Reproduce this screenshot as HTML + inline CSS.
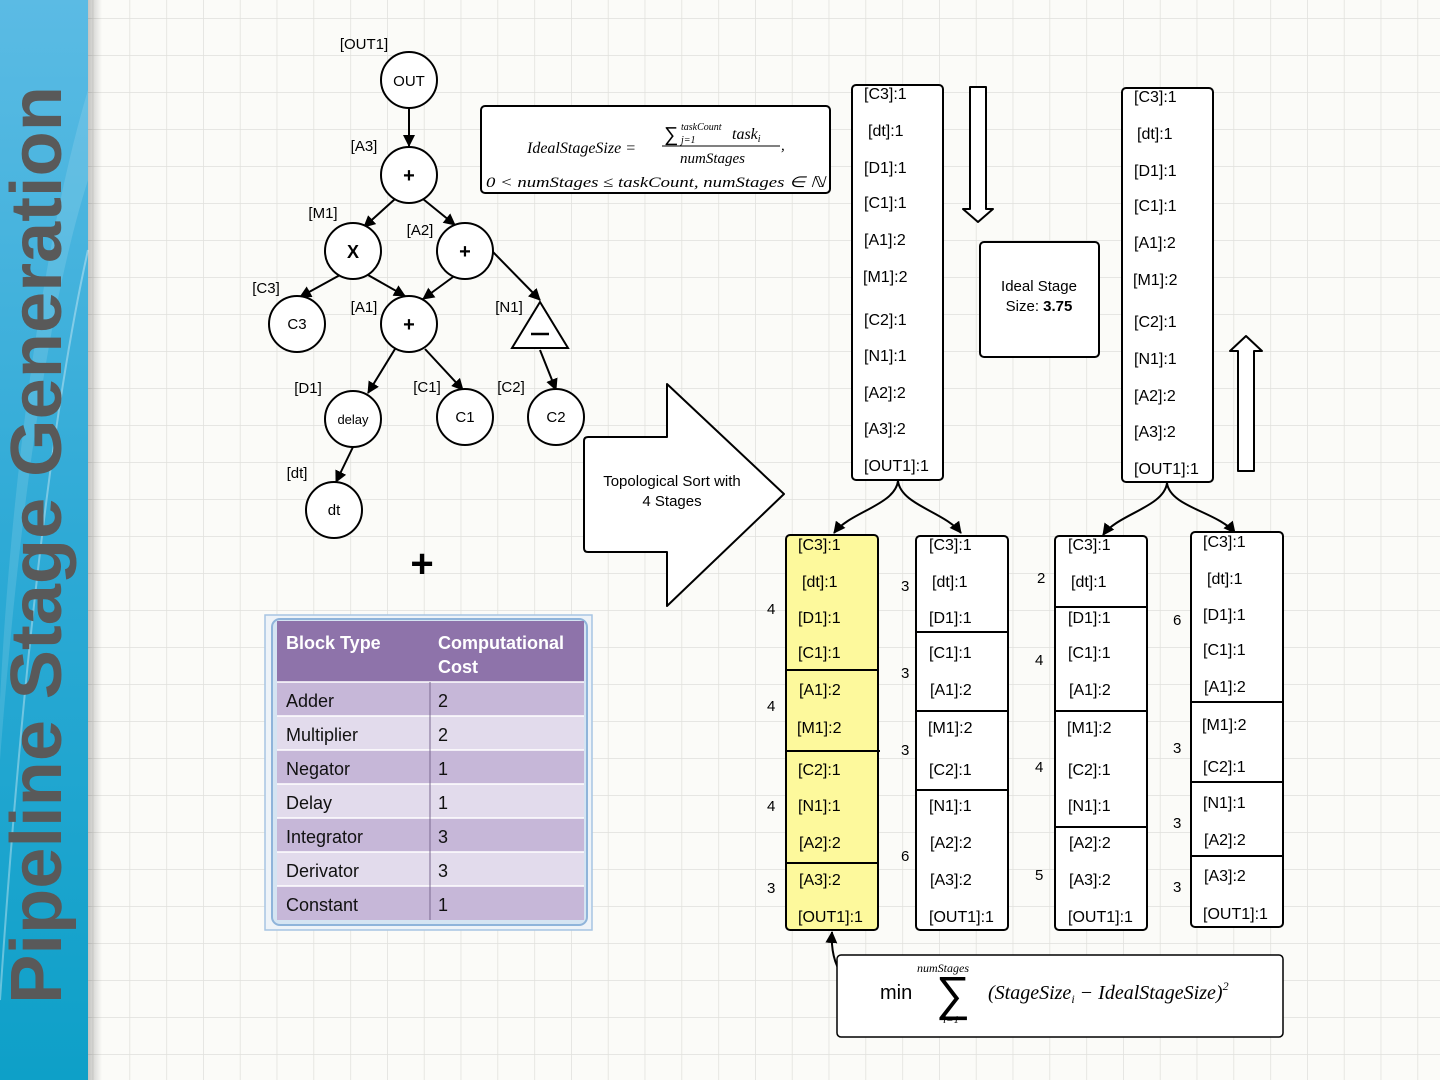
<!DOCTYPE html>
<html><head><meta charset="utf-8"><style>
html,body{margin:0;padding:0;width:1440px;height:1080px;overflow:hidden;background:#fbfbf8}
svg{display:block}
text{font-family:"Liberation Sans",sans-serif}
.s{font-family:"Liberation Serif",serif;font-style:italic}
</style></head><body>
<svg width="1440" height="1080" viewBox="0 0 1440 1080" xmlns="http://www.w3.org/2000/svg">
<defs>
<pattern id="g" x="19" y="18" width="36.8" height="37" patternUnits="userSpaceOnUse">
<path d="M0 0H36.8M0 0V37" stroke="#e0e0dc" stroke-width="1.5" fill="none"/>
</pattern>
<linearGradient id="sb" x1="0" y1="0" x2="0" y2="1">
<stop offset="0" stop-color="#5bbbe4"/><stop offset="0.5" stop-color="#2eaad6"/><stop offset="1" stop-color="#0ea0c8"/>
</linearGradient>
<linearGradient id="sh" x1="0" x2="1"><stop offset="0" stop-color="#000" stop-opacity="0.22"/><stop offset="1" stop-color="#000" stop-opacity="0"/></linearGradient>
<marker id="a" markerWidth="12" markerHeight="12" refX="11" refY="6" orient="auto" markerUnits="userSpaceOnUse"><path d="M0 0L12 6L0 12z" fill="#000"/></marker>
</defs>
<rect width="1440" height="1080" fill="#fbfbf8"/>
<rect x="88" width="1352" height="1080" fill="url(#g)"/>
<rect x="88" width="14" height="1080" fill="url(#sh)"/>
<rect width="88" height="1080" fill="url(#sb)"/>
<path d="M88 90 C40 250 10 500 0 700 L0 760 C20 500 50 300 88 180z" fill="#fff" opacity="0.12"/>
<path d="M88 250 C50 420 20 700 0 1000" stroke="#fff" stroke-width="2" opacity="0.35" fill="none"/>
<text transform="translate(61,1004) rotate(-90)" font-size="72" font-weight="bold" fill="#595959" textLength="918" lengthAdjust="spacingAndGlyphs">Pipeline Stage Generation</text>

<!-- tree -->
<g stroke="#000" stroke-width="2" fill="none" marker-end="url(#a)">
<line x1="409" y1="108" x2="409" y2="146"/>
<line x1="395" y1="199" x2="364" y2="227"/>
<line x1="423" y1="199" x2="455" y2="225"/>
<line x1="340" y1="275" x2="300" y2="297"/>
<line x1="368" y1="275" x2="405" y2="296"/>
<line x1="453" y1="277" x2="423" y2="299"/>
<line x1="493" y1="252" x2="540" y2="300"/>
<line x1="395" y1="349" x2="368" y2="393"/>
<line x1="425" y1="349" x2="463" y2="390"/>
<line x1="540" y1="350" x2="556" y2="390"/>
<line x1="353" y1="447" x2="336" y2="482"/>
</g>
<g stroke="#000" stroke-width="2" fill="#fff">
<circle cx="409" cy="80" r="28"/><circle cx="409" cy="175" r="28"/>
<circle cx="353" cy="251" r="28"/><circle cx="465" cy="251" r="28"/>
<circle cx="297" cy="324" r="28"/><circle cx="409" cy="324" r="28"/>
<circle cx="353" cy="419" r="28"/><circle cx="465" cy="417" r="28"/>
<circle cx="556" cy="417" r="28"/><circle cx="334" cy="510" r="28"/>
<path d="M540 302L568 348L512 348z"/>
</g>
<g font-size="15" text-anchor="middle" fill="#000">
<text x="409" y="86">OUT</text><text x="409" y="182" font-weight="bold" font-size="20">+</text>
<text x="353" y="258" font-weight="bold" font-size="18">X</text><text x="465" y="258" font-weight="bold" font-size="20">+</text>
<text x="297" y="329">C3</text><text x="409" y="331" font-weight="bold" font-size="20">+</text>
<text x="353" y="424" font-size="13">delay</text><text x="465" y="422">C1</text><text x="556" y="422">C2</text>
<text x="334" y="515">dt</text>
<line x1="531" y1="334" x2="549" y2="334" stroke="#000" stroke-width="2.5"/>
<text x="364" y="49">[OUT1]</text><text x="364" y="151">[A3]</text><text x="323" y="218">[M1]</text>
<text x="420" y="235">[A2]</text><text x="266" y="293">[C3]</text><text x="364" y="312">[A1]</text>
<text x="509" y="312">[N1]</text><text x="308" y="393">[D1]</text><text x="427" y="392">[C1]</text>
<text x="511" y="392">[C2]</text><text x="297" y="478">[dt]</text>
</g>
<text x="422" y="577" font-size="40" font-weight="bold" text-anchor="middle">+</text>

<!-- formula box -->
<rect x="481" y="106" width="349" height="87" rx="4" fill="#fff" stroke="#000" stroke-width="2"/>
<text class="s" x="527" y="153" font-size="16">IdealStageSize =</text>
<text x="664" y="141" font-size="20" font-family="Liberation Serif,serif">∑</text>
<text class="s" x="681" y="130" font-size="10">taskCount</text>
<text class="s" x="681" y="143" font-size="10">j=1</text>
<text class="s" x="732" y="139" font-size="16">task<tspan font-size="10" dy="3">i</tspan></text>
<line x1="662" y1="146" x2="780" y2="146" stroke="#000" stroke-width="1"/>
<text class="s" x="680" y="163" font-size="15">numStages</text>
<text class="s" x="781" y="150" font-size="15">,</text>
<text class="s" x="486" y="187" font-size="15" textLength="339" lengthAdjust="spacingAndGlyphs">0 &lt; numStages ≤ taskCount, numStages ∈ ℕ</text>

<!-- top columns -->
<rect x="852" y="85" width="91" height="395" rx="4" fill="#fff" stroke="#000" stroke-width="2"/>
<rect x="1122" y="88" width="91" height="394" rx="4" fill="#fff" stroke="#000" stroke-width="2"/>
<g font-size="16" fill="#000">
<text x="864" y="99">[C3]:1</text><text x="868" y="136">[dt]:1</text><text x="864" y="173">[D1]:1</text><text x="864" y="208">[C1]:1</text><text x="864" y="245">[A1]:2</text><text x="863" y="282">[M1]:2</text><text x="864" y="325">[C2]:1</text><text x="864" y="361">[N1]:1</text><text x="864" y="398">[A2]:2</text><text x="864" y="434">[A3]:2</text><text x="864" y="471">[OUT1]:1</text>
<text x="1134" y="102">[C3]:1</text><text x="1137" y="139">[dt]:1</text><text x="1134" y="176">[D1]:1</text><text x="1134" y="211">[C1]:1</text><text x="1134" y="248">[A1]:2</text><text x="1133" y="285">[M1]:2</text><text x="1134" y="327">[C2]:1</text><text x="1134" y="364">[N1]:1</text><text x="1134" y="401">[A2]:2</text><text x="1134" y="437">[A3]:2</text><text x="1134" y="474">[OUT1]:1</text>
</g>
<path d="M970 87H986V209H993L978 222L963 209H970z" fill="#fff" stroke="#000" stroke-width="2" stroke-linejoin="round"/>
<path d="M1238 471H1254V351H1262L1246 336L1230 351H1238z" fill="#fff" stroke="#000" stroke-width="2" stroke-linejoin="round"/>
<rect x="980" y="242" width="119" height="115" rx="4" fill="#fff" stroke="#000" stroke-width="2"/>
<text x="1039" y="291" font-size="15" text-anchor="middle">Ideal Stage</text>
<text x="1039" y="311" font-size="15" text-anchor="middle">Size: <tspan font-weight="bold">3.75</tspan></text>

<g stroke="#000" stroke-width="2" fill="none" marker-end="url(#a)">
<path d="M898 481 C895 505 850 512 834 533"/>
<path d="M898 481 C901 505 945 512 961 533"/>
<path d="M1167 483 C1164 507 1118 514 1103 535"/>
<path d="M1167 483 C1170 507 1218 512 1235 533"/>
<path d="M880 993 C845 993 830 965 832 932"/>
</g>

<!-- big arrow -->
<path d="M588 437H667V384L784 494L667 606V552H588Q584 552 584 548V441Q584 437 588 437z" fill="#fff" stroke="#000" stroke-width="2" stroke-linejoin="round"/>
<text x="672" y="486" font-size="15" text-anchor="middle">Topological Sort with</text>
<text x="672" y="506" font-size="15" text-anchor="middle">4 Stages</text>

<!-- bottom columns -->
<rect x="786" y="535" width="92" height="395" rx="4" fill="#fdf99c" stroke="#000" stroke-width="2"/>
<rect x="916" y="536" width="92" height="394" rx="4" fill="#fff" stroke="#000" stroke-width="2"/>
<rect x="1055" y="536" width="92" height="394" rx="4" fill="#fff" stroke="#000" stroke-width="2"/>
<rect x="1191" y="532" width="92" height="395" rx="4" fill="#fff" stroke="#000" stroke-width="2"/>
<g stroke="#000" stroke-width="2">
<line x1="786" y1="670" x2="878" y2="670"/><line x1="787" y1="751" x2="880" y2="751"/><line x1="786" y1="863" x2="878" y2="863"/>
<line x1="916" y1="632" x2="1008" y2="632"/><line x1="916" y1="711" x2="1008" y2="711"/><line x1="916" y1="790" x2="1008" y2="790"/>
<line x1="1055" y1="607" x2="1147" y2="607"/><line x1="1054" y1="711" x2="1147" y2="711"/><line x1="1054" y1="827" x2="1147" y2="827"/>
<line x1="1191" y1="702" x2="1283" y2="702"/><line x1="1191" y1="782" x2="1283" y2="782"/><line x1="1191" y1="856" x2="1283" y2="856"/>
</g>
<g font-size="16" fill="#000">
<text x="798" y="550">[C3]:1</text><text x="802" y="587">[dt]:1</text><text x="798" y="623">[D1]:1</text><text x="798" y="658">[C1]:1</text><text x="799" y="695">[A1]:2</text><text x="797" y="733">[M1]:2</text><text x="798" y="775">[C2]:1</text><text x="798" y="811">[N1]:1</text><text x="799" y="848">[A2]:2</text><text x="799" y="885">[A3]:2</text><text x="798" y="922">[OUT1]:1</text>
<text x="929" y="550">[C3]:1</text><text x="932" y="587">[dt]:1</text><text x="929" y="623">[D1]:1</text><text x="929" y="658">[C1]:1</text><text x="930" y="695">[A1]:2</text><text x="928" y="733">[M1]:2</text><text x="929" y="775">[C2]:1</text><text x="929" y="811">[N1]:1</text><text x="930" y="848">[A2]:2</text><text x="930" y="885">[A3]:2</text><text x="929" y="922">[OUT1]:1</text>
<text x="1068" y="550">[C3]:1</text><text x="1071" y="587">[dt]:1</text><text x="1068" y="623">[D1]:1</text><text x="1068" y="658">[C1]:1</text><text x="1069" y="695">[A1]:2</text><text x="1067" y="733">[M1]:2</text><text x="1068" y="775">[C2]:1</text><text x="1068" y="811">[N1]:1</text><text x="1069" y="848">[A2]:2</text><text x="1069" y="885">[A3]:2</text><text x="1068" y="922">[OUT1]:1</text>
<text x="1203" y="547">[C3]:1</text><text x="1207" y="584">[dt]:1</text><text x="1203" y="620">[D1]:1</text><text x="1203" y="655">[C1]:1</text><text x="1204" y="692">[A1]:2</text><text x="1202" y="730">[M1]:2</text><text x="1203" y="772">[C2]:1</text><text x="1203" y="808">[N1]:1</text><text x="1204" y="845">[A2]:2</text><text x="1204" y="881">[A3]:2</text><text x="1203" y="919">[OUT1]:1</text>
</g>
<g font-size="15" fill="#000">
<text x="767" y="614">4</text><text x="767" y="711">4</text><text x="767" y="811">4</text><text x="767" y="893">3</text>
<text x="901" y="591">3</text><text x="901" y="678">3</text><text x="901" y="755">3</text><text x="901" y="861">6</text>
<text x="1037" y="583">2</text><text x="1035" y="665">4</text><text x="1035" y="772">4</text><text x="1035" y="880">5</text>
<text x="1173" y="625">6</text><text x="1173" y="753">3</text><text x="1173" y="828">3</text><text x="1173" y="892">3</text>
</g>

<!-- bottom formula -->
<rect x="837" y="955" width="446" height="82" rx="4" fill="#fff" stroke="#000" stroke-width="1.5"/>
<text x="880" y="999" font-size="20" font-family="Liberation Serif,serif">min</text>
<text class="s" x="917" y="972" font-size="12">numStages</text>
<text x="953" y="1010" font-size="48" font-family="Liberation Serif,serif" text-anchor="middle">∑</text>
<text class="s" x="943" y="1023" font-size="11">i=1</text>
<text class="s" x="988" y="999" font-size="20">(StageSize<tspan font-size="12" dy="4">i</tspan><tspan dy="-4"> − IdealStageSize)</tspan><tspan font-size="12" dy="-9">2</tspan></text>

<!-- table -->
<rect x="265" y="615" width="327" height="315" fill="#eef3f8" stroke="#a7c5e2" stroke-width="1.5"/>
<rect x="272" y="619" width="315" height="306" rx="8" fill="#d5e4f2" stroke="#8fb4da" stroke-width="2"/>
<rect x="277" y="621" width="307" height="61" fill="#8e73aa"/>
<rect x="277" y="682" width="307" height="34" fill="#c6b7d8"/>
<rect x="277" y="716" width="307" height="34" fill="#e2dbec"/>
<rect x="277" y="750" width="307" height="34" fill="#c6b7d8"/>
<rect x="277" y="784" width="307" height="34" fill="#e2dbec"/>
<rect x="277" y="818" width="307" height="34" fill="#c6b7d8"/>
<rect x="277" y="852" width="307" height="34" fill="#e2dbec"/>
<rect x="277" y="886" width="307" height="34" fill="#c6b7d8"/>
<g stroke="#fff" stroke-width="1.5"><line x1="277" y1="682" x2="584" y2="682"/><line x1="277" y1="716" x2="584" y2="716"/><line x1="277" y1="750" x2="584" y2="750"/><line x1="277" y1="784" x2="584" y2="784"/><line x1="277" y1="818" x2="584" y2="818"/><line x1="277" y1="852" x2="584" y2="852"/><line x1="277" y1="886" x2="584" y2="886"/></g>
<line x1="430" y1="682" x2="430" y2="920" stroke="#7a6a90" stroke-width="1"/>
<g font-size="18" fill="#fff" font-weight="bold"><text x="286" y="649">Block Type</text><text x="438" y="649">Computational</text><text x="438" y="673">Cost</text></g>
<g font-size="18" fill="#111">
<text x="286" y="707">Adder</text><text x="438" y="707">2</text>
<text x="286" y="741">Multiplier</text><text x="438" y="741">2</text>
<text x="286" y="775">Negator</text><text x="438" y="775">1</text>
<text x="286" y="809">Delay</text><text x="438" y="809">1</text>
<text x="286" y="843">Integrator</text><text x="438" y="843">3</text>
<text x="286" y="877">Derivator</text><text x="438" y="877">3</text>
<text x="286" y="911">Constant</text><text x="438" y="911">1</text>
</g>
</svg>
</body></html>
